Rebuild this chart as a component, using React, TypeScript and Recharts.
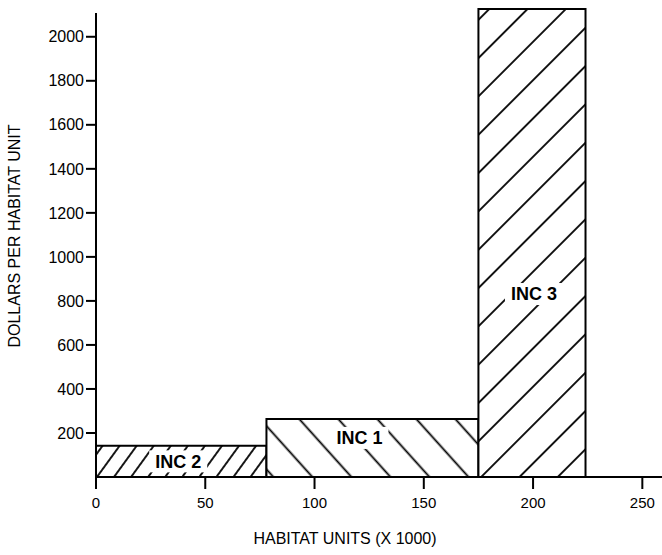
import React from 'react';
import { ComposedChart, XAxis, YAxis, ReferenceArea, Scatter } from 'recharts';

// ---- data ----
const incNames = ['INC 2', 'INC 1', 'INC 3'];
const habitatStart = [0, 78, 175]; // habitat units (x 1000)
const habitatEnd = [78, 175, 224];
const dollarsPerUnit = [142, 264, 2126];
const xTicks = [0, 50, 100, 150, 200, 250];
const yTicks = [200, 400, 600, 800, 1000, 1200, 1400, 1600, 1800, 2000];

// ---- styles ----
const FONT = '"Liberation Sans", Arial, Helvetica, sans-serif';
const hatchStyles = [
  { angle: 36, gap: 13.8 },
  { angle: -42, gap: 29 },
  { angle: 45, gap: 27.1 },
];
const labelOffsets = [
  { dx: -3, dy: 0 },
  { dx: -13, dy: -10 },
  { dx: 2, dy: 51 },
];

const points = incNames.map((name, i) => ({
  x: (habitatStart[i] + habitatEnd[i]) / 2,
  y: dollarsPerUnit[i],
  name,
}));

const makeLabel = (i: number) => (props: any) => {
  const vb = props.viewBox || {};
  const cx = vb.x + vb.width / 2 + labelOffsets[i].dx;
  const cy = vb.y + vb.height / 2 + labelOffsets[i].dy;
  const w = 58;
  const h = 22;
  return (
    <g>
      <rect x={cx - w / 2} y={cy - h / 2} width={w} height={h} fill="#fff" />
      <text
        x={cx}
        y={cy}
        dy="0.36em"
        textAnchor="middle"
        fontFamily={FONT}
        fontWeight="bold"
        fontSize={18}
        fill="#000"
      >
        {incNames[i]}
      </text>
    </g>
  );
};

const XTitle = (props: any) => {
  const vb = props.viewBox || {};
  return (
    <text
      x={vb.x + 249}
      y={vb.y + 67}
      textAnchor="middle"
      fontFamily={FONT}
      fontSize={16}
      fill="#000"
    >
      HABITAT UNITS (X 1000)
    </text>
  );
};

const YTitle = () => (
  <text
    x={0}
    y={0}
    transform="translate(14 236) rotate(-90)"
    dy="0.36em"
    textAnchor="middle"
    fontFamily={FONT}
    fontSize={16}
    fill="#000"
  >
    DOLLARS PER HABITAT UNIT
  </text>
);

export default function App() {
  return (
    <div style={{ position: 'absolute', left: 0, top: 0, width: 662, height: 555, background: '#fff' }}>
      <ComposedChart
        width={662}
        height={555}
        margin={{ top: 13, right: 0, bottom: 28, left: 0 }}
      >
        <defs>
          {hatchStyles.map((h, i) => (
            <pattern
              key={i}
              id={`hatch${i}`}
              patternUnits="userSpaceOnUse"
              width={h.gap}
              height={h.gap}
              patternTransform={`rotate(${h.angle}) translate(${-h.gap / 2} 0)`}
            >
              <rect x={0} y={0} width={h.gap} height={h.gap} fill="#fff" />
              <line x1={h.gap / 2} y1={-1} x2={h.gap / 2} y2={h.gap + 1} stroke="#000" strokeWidth={1.8} />
            </pattern>
          ))}
        </defs>
        <XAxis
          type="number"
          dataKey="x"
          domain={[0, 259]}
          allowDataOverflow
          ticks={xTicks}
          interval={0}
          height={50}
          tickSize={12}
          tickMargin={8}
          axisLine={{ stroke: '#000', strokeWidth: 2 }}
          tickLine={{ stroke: '#000', strokeWidth: 2 }}
          tick={{ fill: '#000', fontSize: 15, fontFamily: FONT }}
          label={<XTitle />}
        />
        <YAxis
          type="number"
          dataKey="y"
          domain={[0, 2108]}
          allowDataOverflow
          ticks={yTicks}
          interval={0}
          width={96}
          tickSize={10}
          tickMargin={2}
          axisLine={{ stroke: '#000', strokeWidth: 2 }}
          tickLine={{ stroke: '#000', strokeWidth: 2 }}
          tick={{ fill: '#000', fontSize: 16, fontFamily: FONT }}
          label={<YTitle />}
        />
        {incNames.map((name, i) => (
          <ReferenceArea
            key={name}
            x1={habitatStart[i]}
            x2={habitatEnd[i]}
            y1={0}
            y2={dollarsPerUnit[i]}
            ifOverflow="visible"
            fill={`url(#hatch${i})`}
            fillOpacity={1}
            stroke="#000"
            strokeWidth={2}
            label={makeLabel(i)}
          />
        ))}
        <Scatter
          data={points}
          dataKey="y"
          isAnimationActive={false}
          legendType="none"
          shape={() => <g />}
        />
      </ComposedChart>
    </div>
  );
}
